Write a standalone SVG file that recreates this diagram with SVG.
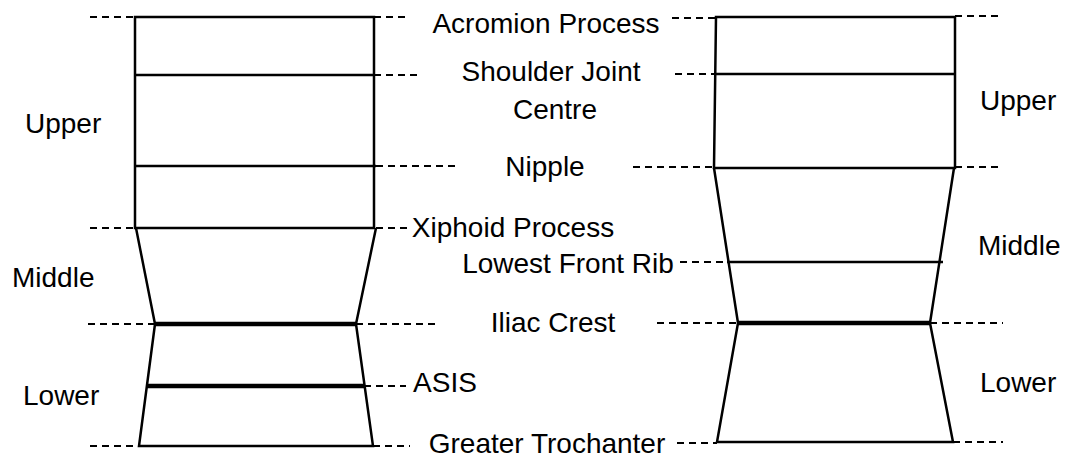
<svg xmlns="http://www.w3.org/2000/svg" width="1072" height="463" viewBox="0 0 1072 463">
<style>
.s{fill:none;stroke:#000;stroke-width:2.5;stroke-linejoin:miter}
.t{fill:none;stroke:#000;stroke-width:4.5}
.d{fill:none;stroke:#000;stroke-width:2.2;stroke-dasharray:7 5}
text{font-family:"Liberation Sans",Arial,sans-serif;font-size:28px;fill:#000}
.m{text-anchor:middle}
</style>
<rect width="1072" height="463" fill="#fff"/>
<g id="left-trunk">
<path class="s" d="M135,17 H374 V228 H135 Z"/>
<path class="s" d="M135,75 H374 M135,166 H376"/>
<path class="s" d="M136,228 L155,324 L139,446 H373 L356,324 L376,228"/>
<path class="t" d="M155,324 H356 M147,386 H364"/>
</g>
<g id="right-trunk">
<path class="s" d="M716,17 H955 V168 H714 Z"/>
<path class="s" d="M716,74 H955"/>
<path class="s" d="M714,168 L738,323 L717,442 H953 L930,323 L954,168"/>
<path class="s" d="M727,262 H943"/>
<path class="t" d="M738,323 H930"/>
</g>
<g id="connectors">
<path class="d" d="M90,17 H135 M374,17 H406 M374,75 H422 M376,166 H456 M90,228 H136 M376,228 H410 M88,324 H155 M356,324 H440 M364,386 H406 M90,446 H139 M373,446 H410"/>
<path class="d" d="M672,18 H716 M955,16 H1003 M675,74 H716 M633,167 H713 M955,167 H1003 M680,262 H727 M657,323 H738 M930,323 H1003 M677,443 H717 M953,442 H1003"/>
</g>
<g id="labels">
<text x="25" y="133">Upper</text>
<text x="12" y="287">Middle</text>
<text x="23" y="405">Lower</text>
<text x="980" y="110">Upper</text>
<text x="978" y="255">Middle</text>
<text x="980" y="392">Lower</text>
<text class="m" x="546" y="33">Acromion Process</text>
<text class="m" x="551" y="81">Shoulder Joint</text>
<text class="m" x="555" y="119">Centre</text>
<text class="m" x="545" y="176">Nipple</text>
<text class="m" x="513" y="237">Xiphoid Process</text>
<text class="m" x="568" y="273">Lowest Front Rib</text>
<text class="m" x="553" y="332">Iliac Crest</text>
<text class="m" x="445" y="392">ASIS</text>
<text class="m" x="547" y="453">Greater Trochanter</text>
</g>
</svg>
